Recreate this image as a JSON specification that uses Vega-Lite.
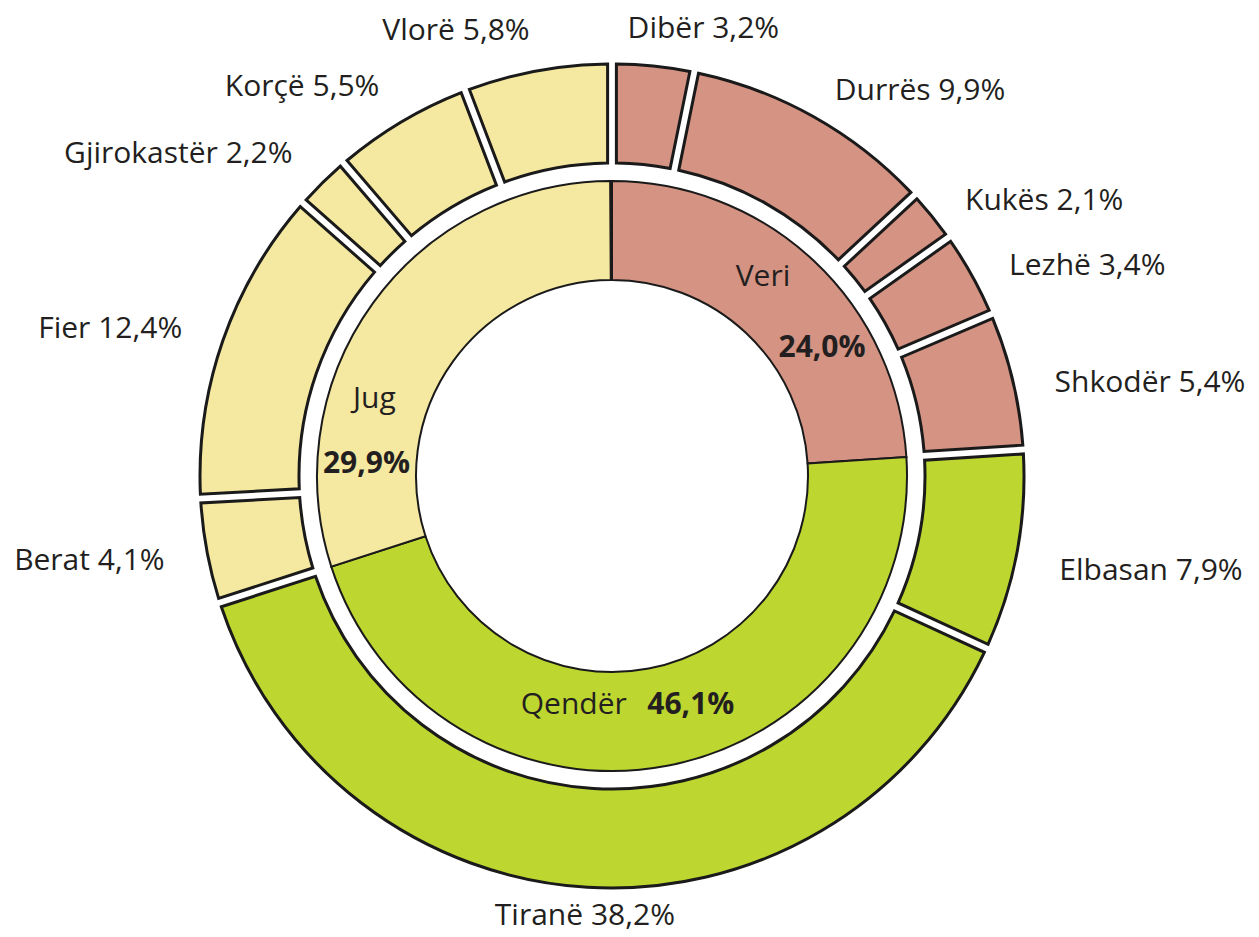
{
  "$schema": "https://vega.github.io/schema/vega-lite/v6.json",
  "width": 1224,
  "height": 922,
  "autosize": "none",
  "padding": {"left": 0, "top": 15, "right": 35, "bottom": 0},
  "background": "white",
  "config": {"view": {"stroke": null}, "text": {"font": "Open Sans", "fontSize": 30, "fill": "#231F20", "baseline": "middle"}},
  "datasets": {
    "inner": [
      {"region": "Veri", "value": 24.0, "pct": "24,0%", "i": 1},
      {"region": "Qendër", "value": 46.1, "pct": "46,1%", "i": 2},
      {"region": "Jug", "value": 29.9, "pct": "29,9%", "i": 3}
    ],
    "outer": [
      {"name": "Dibër", "region": "Veri", "value": 3.2, "label": "Dibër 3,2%", "i": 1},
      {"name": "Durrës", "region": "Veri", "value": 9.9, "label": "Durrës 9,9%", "i": 2},
      {"name": "Kukës", "region": "Veri", "value": 2.1, "label": "Kukës 2,1%", "i": 3},
      {"name": "Lezhë", "region": "Veri", "value": 3.4, "label": "Lezhë 3,4%", "i": 4},
      {"name": "Shkodër", "region": "Veri", "value": 5.4, "label": "Shkodër 5,4%", "i": 5},
      {"name": "Elbasan", "region": "Qendër", "value": 7.9, "label": "Elbasan 7,9%", "i": 6},
      {"name": "Tiranë", "region": "Qendër", "value": 38.2, "label": "Tiranë 38,2%", "i": 7},
      {"name": "Berat", "region": "Jug", "value": 4.1, "label": "Berat 4,1%", "i": 8},
      {"name": "Fier", "region": "Jug", "value": 12.4, "label": "Fier 12,4%", "i": 9},
      {"name": "Gjirokastër", "region": "Jug", "value": 2.2, "label": "Gjirokastër 2,2%", "i": 10},
      {"name": "Korçë", "region": "Jug", "value": 5.5, "label": "Korçë 5,5%", "i": 11},
      {"name": "Vlorë", "region": "Jug", "value": 5.8, "label": "Vlorë 5,8%", "i": 12}
    ]
  },
  "layer": [
    {
      "data": {"name": "outer"},
      "mark": {"type": "arc", "outerRadius": 412, "innerRadius": 313, "padAngle": 0.017, "stroke": "#1a1a1a", "strokeWidth": 3},
      "encoding": {
        "theta": {"field": "value", "type": "quantitative", "stack": true},
        "order": {"field": "i", "type": "quantitative"},
        "color": {"field": "region", "type": "nominal", "scale": {"domain": ["Veri", "Qendër", "Jug"], "range": ["#D49383", "#BED630", "#F5E8A0"]}, "legend": null}
      }
    },
    {
      "data": {"name": "inner"},
      "mark": {"type": "arc", "outerRadius": 295, "innerRadius": 196, "stroke": "#1a1a1a", "strokeWidth": 2},
      "encoding": {
        "theta": {"field": "value", "type": "quantitative", "stack": true},
        "order": {"field": "i", "type": "quantitative"},
        "color": {"field": "region", "type": "nominal", "legend": null}
      }
    },
    {
      "data": {"name": "outer"},
      "mark": {"type": "text", "radius": 455, "align": "left", "dy": 12},
      "encoding": {
        "theta": {"field": "value", "type": "quantitative", "stack": true},
        "order": {"field": "i", "type": "quantitative"},
        "text": {"condition": {"test": "indexof(['Durrës','Kukës','Lezhë','Shkodër','Elbasan'], datum.name) >= 0", "field": "label"}, "value": ""}
      }
    },
    {
      "data": {"name": "outer"},
      "mark": {"type": "text", "radius": 455, "align": "left", "dx": -30, "dy": 6},
      "encoding": {
        "theta": {"field": "value", "type": "quantitative", "stack": true},
        "order": {"field": "i", "type": "quantitative"},
        "text": {"condition": {"test": "datum.name == 'Dibër'", "field": "label"}, "value": ""}
      }
    },
    {
      "data": {"name": "outer"},
      "mark": {"type": "text", "radius": 455, "align": "center", "dy": -14},
      "encoding": {
        "theta": {"field": "value", "type": "quantitative", "stack": true},
        "order": {"field": "i", "type": "quantitative"},
        "text": {"condition": {"test": "datum.name == 'Tiranë'", "field": "label"}, "value": ""}
      }
    },
    {
      "data": {"name": "outer"},
      "mark": {"type": "text", "radius": 455, "align": "right", "dy": 2},
      "encoding": {
        "theta": {"field": "value", "type": "quantitative", "stack": true},
        "order": {"field": "i", "type": "quantitative"},
        "text": {"condition": {"test": "indexof(['Berat','Fier','Gjirokastër','Korçë','Vlorë'], datum.name) >= 0", "field": "label"}, "value": ""}
      }
    },
    {
      "data": {"name": "inner"},
      "mark": {"type": "text", "radius": 250, "align": "center", "dx": -20, "dy": -17},
      "encoding": {
        "theta": {"field": "value", "type": "quantitative", "stack": true},
        "order": {"field": "i", "type": "quantitative"},
        "text": {"condition": {"test": "datum.region == 'Veri'", "field": "region"}, "value": ""}
      }
    },
    {
      "data": {"name": "inner"},
      "mark": {"type": "text", "radius": 250, "align": "center", "fontWeight": "bold", "dx": 39, "dy": 54},
      "encoding": {
        "theta": {"field": "value", "type": "quantitative", "stack": true},
        "order": {"field": "i", "type": "quantitative"},
        "text": {"condition": {"test": "datum.region == 'Veri'", "field": "pct"}, "value": ""}
      }
    },
    {
      "data": {"name": "inner"},
      "mark": {"type": "text", "radius": 250, "align": "center", "dx": -85, "dy": -17},
      "encoding": {
        "theta": {"field": "value", "type": "quantitative", "stack": true},
        "order": {"field": "i", "type": "quantitative"},
        "text": {"condition": {"test": "datum.region == 'Qendër'", "field": "region"}, "value": ""}
      }
    },
    {
      "data": {"name": "inner"},
      "mark": {"type": "text", "radius": 250, "align": "center", "fontWeight": "bold", "dx": 32, "dy": -17},
      "encoding": {
        "theta": {"field": "value", "type": "quantitative", "stack": true},
        "order": {"field": "i", "type": "quantitative"},
        "text": {"condition": {"test": "datum.region == 'Qendër'", "field": "pct"}, "value": ""}
      }
    },
    {
      "data": {"name": "inner"},
      "mark": {"type": "text", "radius": 250, "align": "center", "dx": -35, "dy": 70},
      "encoding": {
        "theta": {"field": "value", "type": "quantitative", "stack": true},
        "order": {"field": "i", "type": "quantitative"},
        "text": {"condition": {"test": "datum.region == 'Jug'", "field": "region"}, "value": ""}
      }
    },
    {
      "data": {"name": "inner"},
      "mark": {"type": "text", "radius": 250, "align": "center", "fontWeight": "bold", "dx": -43, "dy": 135},
      "encoding": {
        "theta": {"field": "value", "type": "quantitative", "stack": true},
        "order": {"field": "i", "type": "quantitative"},
        "text": {"condition": {"test": "datum.region == 'Jug'", "field": "pct"}, "value": ""}
      }
    }
  ]
}
